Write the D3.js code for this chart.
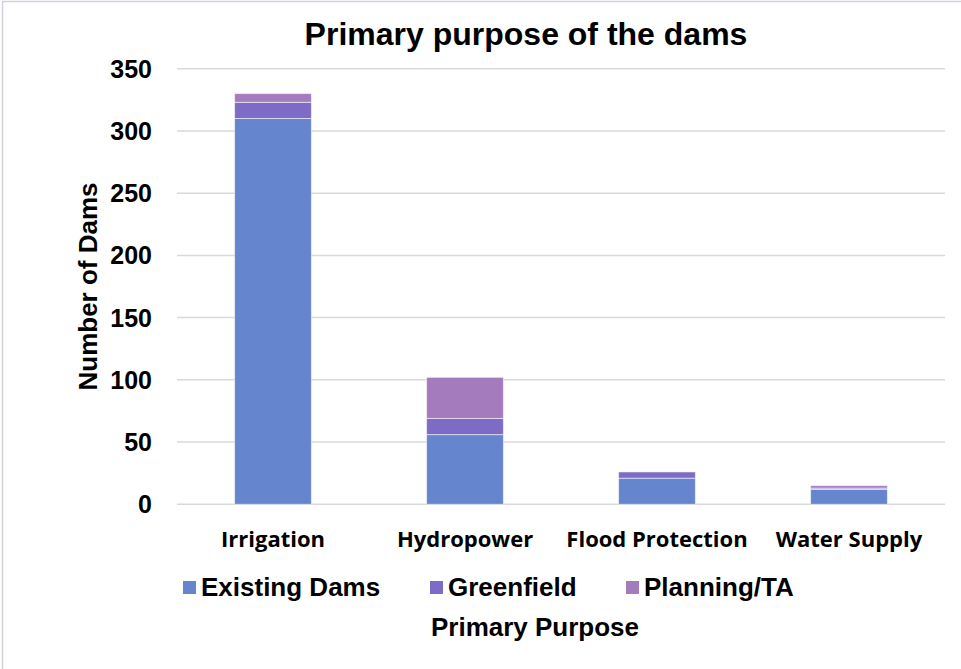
<!DOCTYPE html>
<html>
<head>
<meta charset="utf-8">
<script src="https://cdn.jsdelivr.net/npm/d3@7"></script>
<style>
  html, body { margin: 0; padding: 0; background: #fff; }
  svg { display: block; }
  text { font-family: "Liberation Sans", Arial, sans-serif; font-weight: bold; fill: #000; }
  .cat { font-family: "Open Sans", sans-serif; font-weight: 700; }
</style>
</head>
<body>
<svg id="chart" width="961" height="669"></svg>
<script>
// Dam counts by primary purpose, stacked by project type
const categories = ["Irrigation", "Hydropower", "Flood Protection", "Water Supply"];
const seriesNames = ["Existing Dams", "Greenfield", "Planning/TA"];
const existingDams = [310, 56, 21, 12];
const greenfield = [13, 13, 5, 1];
const planningTA = [7, 33, 0, 2];
const yTicks = [0, 50, 100, 150, 200, 250, 300, 350];
const colors = ["#6586CE", "#7D6BC6", "#A47BBC"];

const svg = d3.select("#chart");
const W = 961, H = 669;

// outer frame
svg.append("rect")
  .attr("x", 2.5).attr("y", 1.5)
  .attr("width", W + 10).attr("height", H + 10)
  .attr("fill", "none").attr("stroke", "#d4cfe0").attr("stroke-width", 1.5);

const plot = { left: 177, right: 945, top: 68.7, bottom: 504.3 };

const x = d3.scaleBand()
  .domain(categories)
  .range([plot.left, plot.right])
  .paddingInner(0.6)
  .paddingOuter(0.3);

const y = d3.scaleLinear()
  .domain([0, 350])
  .range([plot.bottom, plot.top]);

// gridlines
svg.append("g")
  .selectAll("line")
  .data(yTicks)
  .join("line")
  .attr("x1", plot.left).attr("x2", plot.right)
  .attr("y1", d => y(d)).attr("y2", d => y(d))
  .attr("stroke", "#d9d9d9").attr("stroke-width", 1.5);

// y tick labels
svg.append("g")
  .selectAll("text")
  .data(yTicks)
  .join("text")
  .attr("x", 152)
  .attr("y", d => y(d))
  .attr("dy", "0.36em")
  .attr("text-anchor", "end")
  .style("font-size", "25px")
  .text(d => d);

// stacked bars
const rows = categories.map((c, i) => ({
  category: c,
  "Existing Dams": existingDams[i],
  "Greenfield": greenfield[i],
  "Planning/TA": planningTA[i]
}));
const stacked = d3.stack().keys(seriesNames)(rows);

svg.append("g")
  .selectAll("g")
  .data(stacked)
  .join("g")
  .attr("fill", (d, i) => colors[i])
  .selectAll("rect")
  .data(d => d.filter(s => s[1] > s[0]))
  .join("rect")
  .attr("x", d => x(d.data.category))
  .attr("width", x.bandwidth())
  .attr("y", d => y(d[1]))
  .attr("height", d => y(d[0]) - y(d[1]))
  .attr("stroke", "rgba(255,255,255,0.55)")
  .attr("stroke-width", 1);

// category labels
svg.append("g")
  .selectAll("text")
  .data(categories)
  .join("text")
  .attr("class", "cat")
  .attr("x", d => x(d) + x.bandwidth() / 2)
  .attr("y", 547)
  .attr("text-anchor", "middle")
  .style("font-size", "22px")
  .text(d => d);

// title
svg.append("text")
  .attr("x", 526).attr("y", 45)
  .attr("text-anchor", "middle")
  .style("font-size", "32px")
  .text("Primary purpose of the dams");

// y axis title
svg.append("text")
  .attr("transform", "translate(97,286.5) rotate(-90)")
  .attr("text-anchor", "middle")
  .style("font-size", "26px")
  .text("Number of Dams");

// x axis title
svg.append("text")
  .attr("x", 535).attr("y", 636)
  .attr("text-anchor", "middle")
  .style("font-size", "26px")
  .text("Primary Purpose");

// legend
const legendX = [183, 430, 626];
const legend = svg.append("g")
  .selectAll("g")
  .data(seriesNames)
  .join("g")
  .attr("transform", (d, i) => `translate(${legendX[i]},581)`);
legend.append("rect")
  .attr("width", 13).attr("height", 13)
  .attr("fill", (d, i) => colors[i]);
legend.append("text")
  .attr("x", 18).attr("y", 15)
  .style("font-size", "26px")
  .text(d => d);
</script>
</body>
</html>
